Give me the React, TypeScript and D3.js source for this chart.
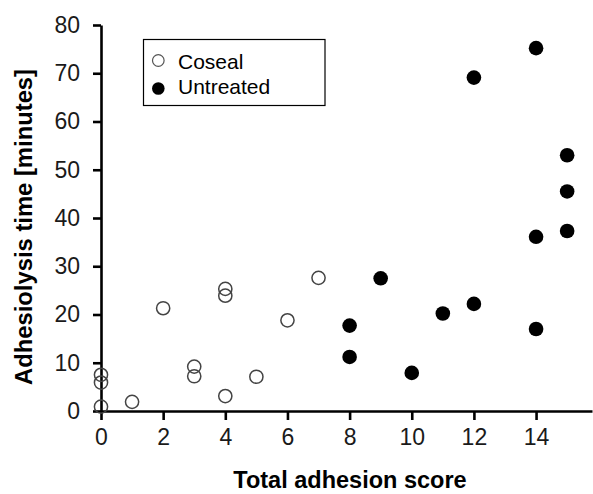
import React, { useEffect, useRef } from 'react';
import * as d3 from 'd3';

// Coseal group (open circles)
const cosealScore = [0, 0, 0, 1, 2, 3, 3, 4, 4, 4, 5, 6, 7];
const cosealTime = [7.5, 5.9, 0.9, 1.9, 21.3, 9.2, 7.2, 25.3, 23.9, 3.1, 7.1, 18.8, 27.6];

// Untreated group (filled circles)
const untreatedScore = [8, 8, 9, 10, 11, 12, 12, 14, 14, 14, 15, 15, 15];
const untreatedTime = [17.7, 11.2, 27.5, 7.9, 20.2, 22.2, 69.1, 17.0, 75.2, 36.1, 53.0, 45.5, 37.3];

const xTicks = [0, 2, 4, 6, 8, 10, 12, 14];
const yTicks = [0, 10, 20, 30, 40, 50, 60, 70, 80];

const W = 593;
const H = 494;
const FONT = 'Liberation Sans, Arial, sans-serif';

const App: React.FC = () => {
  const svgRef = useRef<SVGSVGElement>(null);

  useEffect(() => {
    if (!svgRef.current) return;
    const svg = d3.select(svgRef.current);
    svg.selectAll('*').remove();

    const x = d3.scaleLinear().domain([0, 15.8]).range([101, 592]);
    const y = d3.scaleLinear().domain([0, 80]).range([411, 25]);

    // --- AXES ---
    svg.append('g')
      .attr('transform', `translate(0,${y(0)})`)
      .call(d3.axisBottom(x).tickValues(xTicks).tickSize(9).tickSizeOuter(0).tickPadding(9))
      .call(g => g.select('.domain').attr('stroke', '#000').attr('stroke-width', 2.6))
      .call(g => g.selectAll('.tick line').attr('stroke', '#000').attr('stroke-width', 2.6))
      .call(g => g.selectAll('.tick text')
        .attr('font-family', FONT).attr('font-size', 23).attr('fill', '#1a1a1a'));

    svg.append('g')
      .attr('transform', `translate(${x(0)},0)`)
      .call(d3.axisLeft(y).tickValues(yTicks).tickSize(8).tickSizeOuter(0).tickPadding(13))
      .call(g => g.select('.domain').attr('stroke', '#000').attr('stroke-width', 2.6))
      .call(g => g.selectAll('.tick line').attr('stroke', '#000').attr('stroke-width', 2.6))
      .call(g => g.selectAll('.tick text')
        .attr('font-family', FONT).attr('font-size', 23).attr('fill', '#1a1a1a'));

    // --- TITLES ---
    svg.append('text')
      .attr('x', 350).attr('y', 488)
      .attr('text-anchor', 'middle')
      .attr('font-family', FONT).attr('font-size', 23.5).attr('font-weight', 'bold')
      .text('Total adhesion score');

    svg.append('text')
      .attr('transform', `translate(32,227) rotate(-90)`)
      .attr('text-anchor', 'middle')
      .attr('font-family', FONT).attr('font-size', 23.8).attr('font-weight', 'bold')
      .text('Adhesiolysis time [minutes]');

    // --- POINTS ---
    svg.append('g').selectAll('circle')
      .data(cosealScore.map((s, i) => [s, cosealTime[i]]))
      .join('circle')
      .attr('cx', d => x(d[0]))
      .attr('cy', d => y(d[1]))
      .attr('r', 6.6)
      .attr('fill', 'none')
      .attr('stroke', '#444')
      .attr('stroke-width', 1.5);

    svg.append('g').selectAll('circle')
      .data(untreatedScore.map((s, i) => [s, untreatedTime[i]]))
      .join('circle')
      .attr('cx', d => x(d[0]))
      .attr('cy', d => y(d[1]))
      .attr('r', 7.3)
      .attr('fill', '#000');

    // --- LEGEND ---
    const legend = svg.append('g');
    legend.append('rect')
      .attr('x', 143.5).attr('y', 39.5).attr('width', 181.5).attr('height', 66)
      .attr('fill', '#fff').attr('stroke', '#000').attr('stroke-width', 1.2);
    legend.append('circle')
      .attr('cx', 158.3).attr('cy', 60.5).attr('r', 5.8)
      .attr('fill', 'none').attr('stroke', '#555').attr('stroke-width', 1.2);
    legend.append('circle')
      .attr('cx', 158.3).attr('cy', 88.5).attr('r', 6.3)
      .attr('fill', '#000');
    legend.append('text')
      .attr('x', 178).attr('y', 68.5)
      .attr('font-family', FONT).attr('font-size', 21)
      .text('Coseal');
    legend.append('text')
      .attr('x', 178).attr('y', 93.5)
      .attr('font-family', FONT).attr('font-size', 21)
      .text('Untreated');
  }, []);

  return (
    <svg
      ref={svgRef}
      width={W}
      height={H}
      style={{ position: 'absolute', left: 0, top: 0, background: '#fff' }}
    />
  );
};

export default App;
